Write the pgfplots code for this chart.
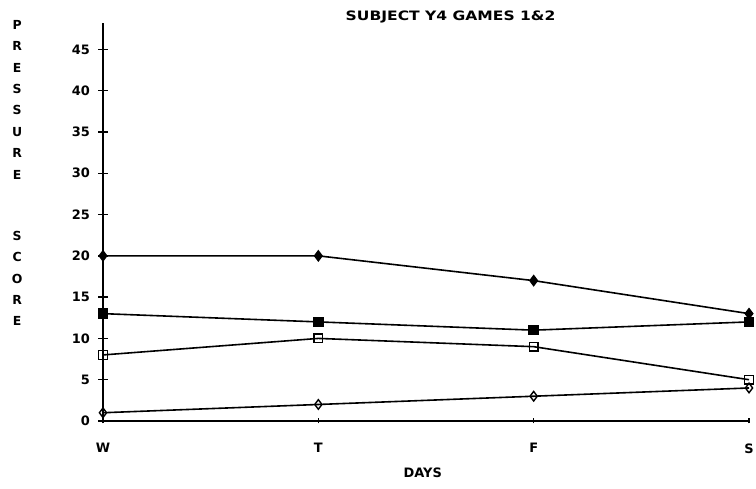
\documentclass[border=0pt]{standalone}
\usepackage{pgfplots}
\pgfplotsset{compat=1.18}
\usepackage{fontspec}
\setmainfont{DejaVu Sans}
\newfontfamily\titlefont[FakeStretch=1.2]{DejaVu Sans}
\begin{document}
\begin{tikzpicture}[x=1bp,y=1bp]
\path[use as bounding box] (0,0) rectangle (756,489);
\begin{axis}[
  at={(103bp,68bp)}, anchor=south west, scale only axis,
  width=646bp, height=398bp,
  xmin=0, xmax=3, ymin=0, ymax=48.2,
  axis lines=left, axis line style={-, line width=1.6bp},
  xtick={0,1,2,3}, xticklabels={W,T,F,S},
  ytick={0,5,...,45},
  tick align=center, major tick length=10bp,
  tick style={line width=1.4bp, black},
  xtick style={/pgfplots/major tick length=5bp},
  font=\bfseries\fontsize{13}{15}\selectfont,
  /pgf/number format/assume math mode=true,
  xticklabel style={yshift=-14bp},
  yticklabel style={xshift=-4.5bp},
  title={SUBJECT Y4 GAMES 1\&2},
  title style={at={(axis description cs:0.538,1.0)}, anchor=center, font=\titlefont\bfseries\fontsize{13}{15}\selectfont},
  xlabel={DAYS},
  xlabel style={at={(axis description cs:0.495,-0.131)}, anchor=center},
  ylabel={P\\R\\E\\S\\S\\U\\R\\E\\[39.5bp]S\\C\\O\\R\\E},
  ylabel style={rotate=-90, at={(axis description cs:-0.133,0.623)}, anchor=center, align=center, font=\bfseries\fontsize{12.5}{21.5}\selectfont},
  clip=false,
  every axis plot/.append style={black, line width=1.6bp},
]
\addplot[mark=diamond*, mark size=4.8bp] coordinates {(0,20) (1,20) (2,17) (3,13)};
\addplot[mark=square*, mark size=4.5bp] coordinates {(0,13) (1,12) (2,11) (3,12)};
\addplot[mark=square, mark size=4.3bp, mark options={fill=white, line width=1.4bp}] coordinates {(0,8) (1,10) (2,9) (3,5)};
\addplot[mark=diamond, mark size=4.8bp, mark options={fill=white, line width=1.4bp}] coordinates {(0,1) (1,2) (2,3) (3,4)};
\end{axis}
\end{tikzpicture}
\end{document}
